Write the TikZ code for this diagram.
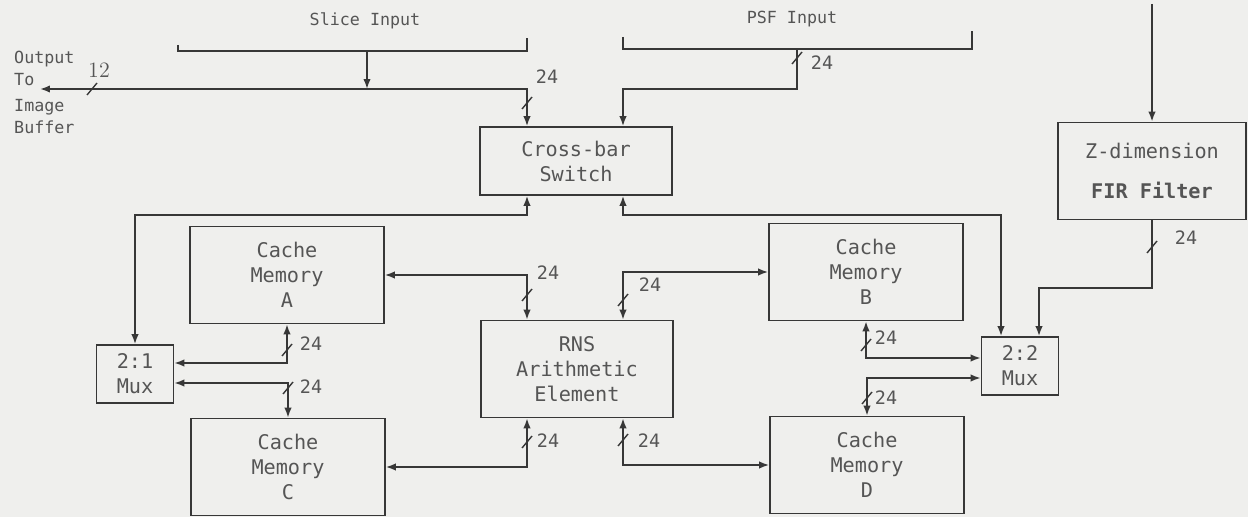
\documentclass[tikz,border=0pt]{standalone}
\usepackage{fontspec}
\setmonofont{DejaVu Sans Mono}
\usetikzlibrary{arrows.meta,positioning,calc}
\definecolor{scan}{RGB}{239,239,237}
\definecolor{ink}{RGB}{55,55,55}
\definecolor{type}{RGB}{85,85,85}

\begin{document}
\begin{tikzpicture}[x=0.02cm,y=-0.02cm,
      font=\ttfamily\fontsize{11.5}{14.2}\selectfont,
      box/.style={draw=ink,line width=1pt,align=center,text=type,inner sep=1mm},
      mem/.style={box,minimum width=3.88cm,minimum height=1.94cm},
      mux/.style={box,minimum width=1.54cm,minimum height=1.16cm},
      note/.style={text=type,font=\ttfamily\fontsize{9.5}{12.5}\selectfont},
      wd/.style={text=type,font=\ttfamily\fontsize{10.5}{12}\selectfont,inner sep=1pt},
      wire/.style={draw=ink,line width=1pt},
      arr/.style={wire,-{Latex[length=2mm,width=1.5mm]}},
      dual/.style={wire,{Latex[length=2mm,width=1.5mm]}-{Latex[length=2mm,width=1.5mm]}},
      bus/.style={draw=ink,line width=0.8pt}]
    \fill[scan] (0,0) rectangle (1248,517);
    \useasboundingbox (0,0) rectangle (1248,517);
    % blocks
    \node[box,minimum width=3.84cm,minimum height=1.36cm] (xbar) at (576,161) {Cross-bar\\Switch};
    \node[mem] (cmA) at (287,275) {Cache\\Memory\\A};
    \node[mem] (cmC) at (288,467) {Cache\\Memory\\C};
    \node[mem] (cmB) at (866,272) {Cache\\Memory\\B};
    \node[mem] (cmD) at (867,465) {Cache\\Memory\\D};
    \node[mem,minimum width=3.84cm] (rns) at (577,369) {RNS\\Arithmetic\\Element};
    \node[mem,minimum width=3.76cm] (fir) at (1152,171) {Z-dimension\\[3mm]\textbf{FIR Filter}};
    \node[mux] (mux1) at (135,374) {2:1\\Mux};
    \node[mux] (mux2) at (1020,366) {2:2\\Mux};
    \node[note] (slice) at (365,21) {Slice Input};
    \node[note] (psf) at (792,19) {PSF Input};
    \node[note,align=left,anchor=west] (outA) at (8,68) {Output\\To};
    \node[note,align=left,anchor=west] (outB) at (8,117) {Image\\Buffer};
    % columns, rows and free ends
    \coordinate (cL) at (527,0); \coordinate (cR) at (623,0);
    \coordinate (m2a) at (1001,0); \coordinate (m2b) at (1039,0);
    \coordinate (rTop) at (0,89); \coordinate (rX) at (0,215); \coordinate (rF) at (0,288);
    \coordinate (sl) at (178,51); \coordinate (sr) at (527,51); \coordinate (sm) at (367,51);
    \coordinate (pl) at (623,49); \coordinate (pr) at (972,49); \coordinate (pm) at (797,49);
    \coordinate (obuf) at (40,89);
    \coordinate (zin) at (1152,4);
    % input brackets
    \draw[wire] (sl) ++(0,-6) -- (sl) -- (sr) -- ++(0,-13);
    \draw[wire] (pl) ++(0,-12) -- (pl) -- (pr) -- ++(0,-18);
    % top
    \draw[arr] (sm) -- (sm |- rTop);
    \draw[dual] (xbar.north -| cL) -- (cL |- rTop) -- (obuf);
    \draw[arr] (pm) -- (pm |- rTop) -- (cR |- rTop) -- (xbar.north -| cR);
    \draw[dual] (xbar.south -| cL) -- (cL |- rX) -- (mux1.north |- rX) -- (mux1.north);
    \draw[dual] (xbar.south -| cR) -- (cR |- rX) -- (m2a |- rX) -- (mux2.north -| m2a);
    \draw[arr] (zin) -- (fir.north);
    \draw[arr] (fir.south) -- (fir.south |- rF) -- (m2b |- rF) -- (mux2.north -| m2b);
    % RNS element
    \draw[dual] (cmA.east) -- (cmA.east -| cL) -- (rns.north -| cL);
    \draw[dual] (rns.north -| cR) -- (cR |- cmB.west) -- (cmB.west);
    \draw[dual] (rns.south -| cL) -- (cL |- cmC.east) -- (cmC.east);
    \draw[dual] (rns.south -| cR) -- (cR |- cmD.west) -- (cmD.west);
    % muxes
    \draw[dual] ($(mux1.east)+(0,-11)$) -- ($(cmA.south |- mux1.east)+(0,-11)$) -- (cmA.south);
    \draw[dual] ($(mux1.east)+(0,9)$) -- ($(cmC.north |- mux1.east)+(0,9)$) -- (cmC.north);
    \draw[dual] (cmB.south) -- ($(cmB.south |- mux2.west)+(0,-8)$) -- ($(mux2.west)+(0,-8)$);
    \draw[dual] (cmD.north) -- ($(cmD.north |- mux2.west)+(0,12)$) -- ($(mux2.west)+(0,12)$);
    % bus widths
    \foreach \x/\y in {92/89,527/103,797/58,1152/247,527/295,623/300,527/442,623/440,287/350,288/388,866/345,867/398}
      \draw[bus] (\x,\y) +(-5,6) -- +(5,-6);
    \node[wd,font=\rmfamily\fontsize{12.5}{14}\selectfont] (w0) at (99,70) {12};
    \foreach \x/\y [count=\i] in {547/77,822/63,1186/238,548/273,650/285,548/441,649/441,311/344,311/387,886/338,886/398}
      \node[wd] (w\i) at (\x,\y) {24};
  \end{tikzpicture}
\end{document}
